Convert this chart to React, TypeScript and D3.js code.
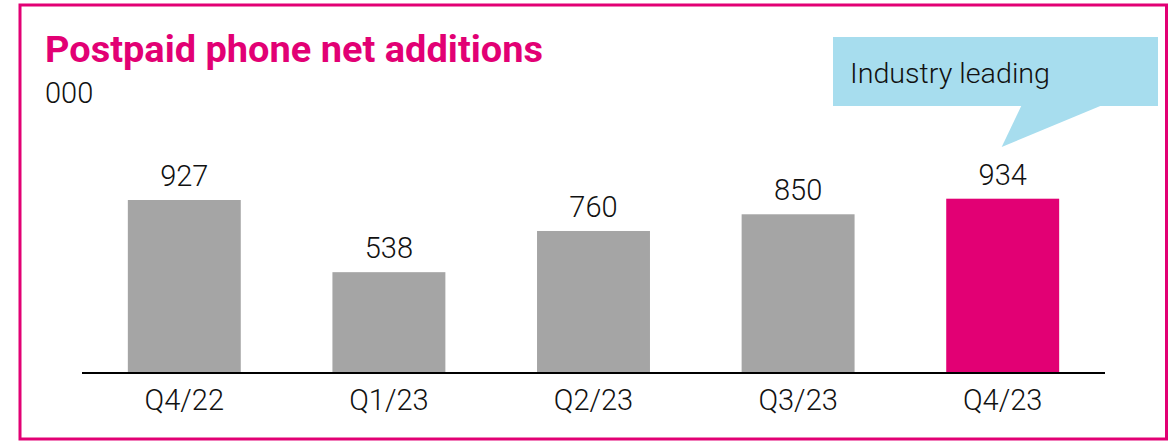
import React from "react";
import * as d3 from "d3";

const categories = ["Q4/22", "Q1/23", "Q2/23", "Q3/23", "Q4/23"];
const values = [927, 538, 760, 850, 934];
const highlighted = [false, false, false, false, true];
const title = "Postpaid phone net additions";
const unit = "000";
const callout = "Industry leading";

const W = 1173;
const H = 442;
const MAGENTA = "#E20074";
const GRAY = "#A5A5A5";
const BLUE = "#A7DDEE";
const FONT = "Roboto, 'Noto Sans', sans-serif";

export default function App() {
  const x = d3
    .scaleBand<string>()
    .domain(categories)
    .range([82, 1105])
    .paddingInner(0.448)
    .paddingOuter(0.224);
  const y = d3.scaleLinear().domain([0, 927]).range([372, 200]);

  const lastX = x(categories[categories.length - 1])! + x.bandwidth() / 2;

  return (
    <svg
      width={W}
      height={H}
      style={{ position: "absolute", left: 0, top: 0, background: "#fff" }}
      fontFamily={FONT}
    >
      <rect x={20} y={5} width={1146.5} height={434} fill="none" stroke={MAGENTA} strokeWidth={3} />
      <text x={45} y={61.5} fill={MAGENTA} fontSize={37} fontWeight={700} textLength={498} lengthAdjust="spacingAndGlyphs">
        {title}
      </text>
      <text x={45} y={102.5} fill="#111" fontSize={29} fontWeight={300}>
        {unit}
      </text>

      {/* callout */}
      <rect x={833} y={37} width={325} height={69} fill={BLUE} />
      <path
        d={`M${lastX + 19},105 L${lastX - 1},147 L${lastX + 100},105 Z`}
        fill={BLUE}
      />
      <text x={850} y={83} fill="#111" fontSize={27} fontWeight={300} textLength={200} lengthAdjust="spacingAndGlyphs">
        {callout}
      </text>

      {categories.map((c, i) => (
        <g key={c}>
          <rect
            x={x(c)}
            y={y(values[i])}
            width={x.bandwidth()}
            height={y(0) - y(values[i])}
            fill={highlighted[i] ? MAGENTA : GRAY}
          />
          <text
            x={x(c)! + x.bandwidth() / 2}
            y={y(values[i]) - 14}
            textAnchor="middle"
            fill="#111"
            fontSize={29}
            fontWeight={300}
          >
            {values[i]}
          </text>
          <text
            x={x(c)! + x.bandwidth() / 2}
            y={410}
            textAnchor="middle"
            fill="#111"
            fontSize={29}
            fontWeight={300}
          >
            {c}
          </text>
        </g>
      ))}
      <line x1={82} x2={1105} y1={373} y2={373} stroke="#000" strokeWidth={2} />
    </svg>
  );
}
